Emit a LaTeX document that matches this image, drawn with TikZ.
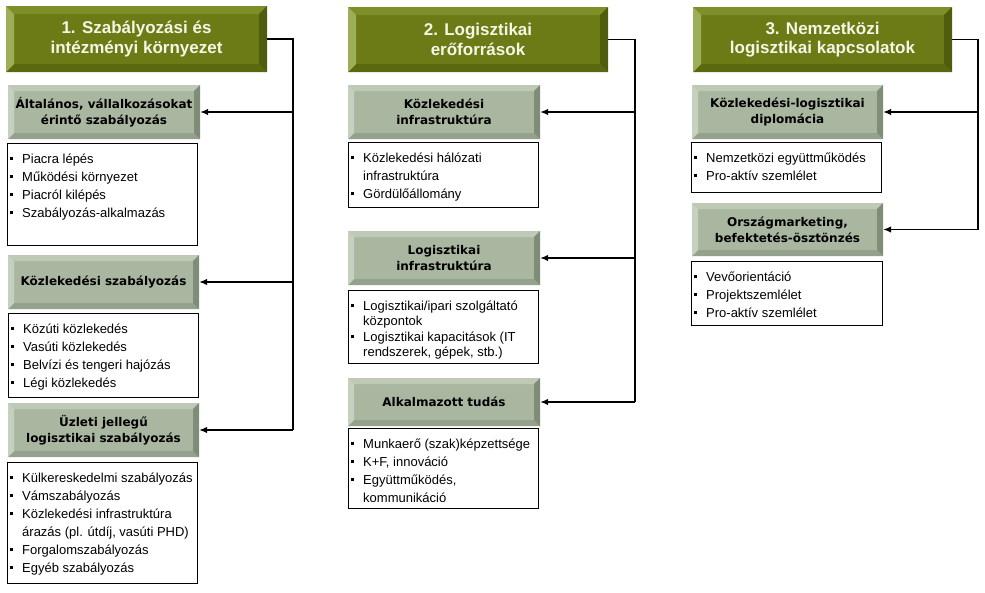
\documentclass[tikz,border=0pt]{standalone}
\usepackage{fontspec}
\setmainfont{Liberation Sans}
\newfontfamily\subfont{DejaVu Sans}
\usetikzlibrary{arrows.meta,calc}
\definecolor{hface}{HTML}{6C7B16}
\definecolor{htop}{HTML}{7E8E28}
\definecolor{hleft}{HTML}{9DAE58}
\definecolor{hright}{HTML}{505D0C}
\definecolor{hbot}{HTML}{5A6910}
\definecolor{htxt}{HTML}{F6F6E6}
\definecolor{sface}{HTML}{A9B7A1}
\definecolor{stop}{HTML}{BECAB6}
\definecolor{sleft}{HTML}{C6D0BF}
\definecolor{sright}{HTML}{7F8D78}
\definecolor{sbot}{HTML}{94A28D}
\def\bevh{8}
\def\bevs{6}
\newcommand\bl{\makebox[12pt][l]{\raisebox{3pt}{\rule{2.8pt}{2.8pt}}}}
\newcommand\ct{\hspace*{12pt}}
\tikzset{
  htext/.style={inner sep=0pt, align=center, text=htxt, font=\fontsize{17}{19.5}\selectfont\bfseries},
  stext/.style={inner sep=0pt, align=center, text=black, font=\subfont\fontsize{12}{16}\selectfont\bfseries},
  lstbox/.style={draw=black, line width=1pt, fill=white, inner sep=0pt},
  lsttext/.style={inner sep=0pt, align=left, anchor=north west, font=\fontsize{13}{18}\selectfont},
  tightlst/.style={font=\fontsize{13}{15.5}\selectfont},
  conn/.style={draw=black, line width=1.3pt},
  arr/.style={conn, -{Latex[length=8pt,width=6.5pt]}}
}
\newcommand\bevbox[7]{%
  \edef\bw{\csname bev#6\endcsname}%
  \pgfmathsetmacro\xi{#2+\bw}\pgfmathsetmacro\xo{#4-\bw}%
  \pgfmathsetmacro\yi{#3+\bw}\pgfmathsetmacro\yo{#5-\bw}%
  \fill[#6face] (#2,#3) rectangle (#4,#5);
  \fill[#6top] (#2,#3) -- (#4,#3) -- (\xo,\yi) -- (\xi,\yi) -- cycle;
  \fill[#6bot] (#2,#5) -- (#4,#5) -- (\xo,\yo) -- (\xi,\yo) -- cycle;
  \fill[#6left] (#2,#3) -- (\xi,\yi) -- (\xi,\yo) -- (#2,#5) -- cycle;
  \fill[#6right] (#4,#3) -- (\xo,\yi) -- (\xo,\yo) -- (#4,#5) -- cycle;
  \node[#6text, minimum width={(#4-#2)*1pt}, minimum height={(#5-#3)*1pt}] (#1) at ({(#2+#4)/2},{(#3+#5)/2}) {#7};
}
\newcommand\lbox[7][]{%
  \node[lstbox, minimum width={(#5-#3)*1pt}, minimum height={(#6-#4)*1pt}] (#2) at ({(#3+#5)/2},{(#4+#6)/2}) {};
  \node[lsttext,#1] (#2t) at ({#3+3},{#4+8}) {#7};
}
\begin{document}
\begin{tikzpicture}[x=1pt,y=-1pt]
\useasboundingbox (0,0) rectangle (985,592);
% column 1
\bevbox{h1}{6}{6}{267}{72}{h}{1. Szabályozási és\\intézményi környezet}
\bevbox{s11}{8}{85}{200}{139}{s}{Általános, vállalkozásokat\\érintő szabályozás}
\lbox{l11}{7}{143}{197}{245}{\rule{0pt}{12pt}\bl Piacra lépés\\\bl Működési környezet\\\bl Piacról kilépés\\\bl Szabályozás-alkalmazás}
\bevbox{s12}{8}{255}{199}{309}{s}{Közlekedési szabályozás}
\lbox{l12}{8}{313}{198}{397}{\rule{0pt}{12pt}\bl Közúti közlekedés\\\bl Vasúti közlekedés\\\bl Belvízi és tengeri hajózás\\\bl Légi közlekedés}
\bevbox{s13}{8}{403}{199}{457}{s}{Üzleti jellegű\\logisztikai szabályozás}
\lbox{l13}{7}{462}{197}{583}{\rule{0pt}{12pt}\bl Külkereskedelmi szabályozás\\\bl Vámszabályozás\\\bl Közlekedési infrastruktúra\\\ct árazás (pl. útdíj, vasúti PHD)\\\bl Forgalomszabályozás\\\bl Egyéb szabályozás}
% column 2
\bevbox{h2}{348}{7}{608}{72}{h}{2. Logisztikai\\erőforrások}
\bevbox{s21}{348}{85}{540}{139}{s}{Közlekedési\\infrastruktúra}
\lbox{l21}{348}{142}{538}{207}{\rule{0pt}{12pt}\bl Közlekedési hálózati\\\ct infrastruktúra\\\bl Gördülőállomány}
\bevbox{s22}{348}{231}{540}{285}{s}{Logisztikai\\infrastruktúra}
\lbox[tightlst]{l22}{348}{290}{538}{363}{\rule{0pt}{12pt}\bl Logisztikai/ipari szolgáltató\\\ct központok\\\bl Logisztikai kapacitások (IT\\\ct rendszerek, gépek, stb.)}
\bevbox{s23}{348}{378}{540}{426}{s}{Alkalmazott tudás}
\lbox{l23}{348}{428}{538}{508}{\rule{0pt}{12pt}\bl Munkaerő (szak)képzettsége\\\bl K+F, innováció\\\bl Együttműködés,\\\ct kommunikáció}
% column 3
\bevbox{h3}{693}{7}{952}{72}{h}{3. Nemzetközi\\logisztikai kapcsolatok}
\bevbox{s31}{692}{85}{883}{139}{s}{Közlekedési-logisztikai\\diplomácia}
\lbox{l31}{691}{142}{881}{192}{\rule{0pt}{12pt}\bl Nemzetközi együttműködés\\\bl Pro-aktív szemlélet}
\bevbox{s32}{692}{203}{883}{256}{s}{Országmarketing,\\befektetés-ösztönzés}
\lbox{l32}{691}{261}{882}{325}{\rule{0pt}{12pt}\bl Vevőorientáció\\\bl Projektszemlélet\\\bl Pro-aktív szemlélet}
% connectors
\coordinate (j1) at (293,0);
\coordinate (j2) at (635,0);
\coordinate (j3) at (978,0);
\draw[conn] (h1.east) -| (j1 |- s13.east);
\draw[arr] (j1 |- s13.east) -- (s13.east);
\draw[arr] (j1 |- s11.east) -- (s11.east);
\draw[arr] (j1 |- s12.east) -- (s12.east);
\draw[conn] (h2.east) -| (j2 |- s23.east);
\draw[arr] (j2 |- s23.east) -- (s23.east);
\draw[arr] (j2 |- s21.east) -- (s21.east);
\draw[arr] (j2 |- s22.east) -- (s22.east);
\draw[conn] (h3.east) -| (j3 |- s32.east);
\draw[arr] (j3 |- s32.east) -- (s32.east);
\draw[arr] (j3 |- s31.east) -- (s31.east);
\end{tikzpicture}
\end{document}
